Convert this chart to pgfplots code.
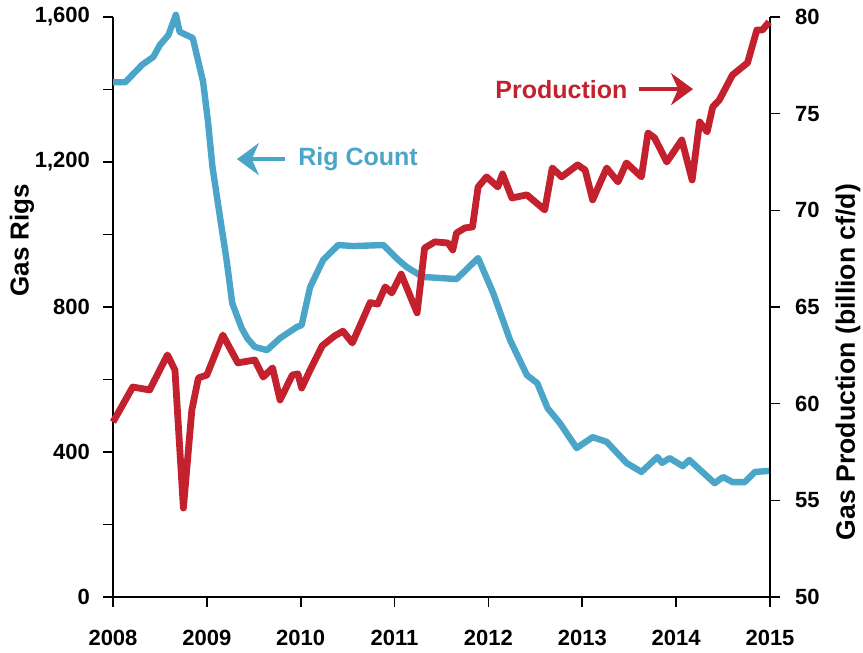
\documentclass[border=0pt]{standalone}
\usepackage{pgfplots}
\pgfplotsset{compat=1.18}
\usepackage{fontspec}
\setmainfont{Liberation Sans}
\usetikzlibrary{arrows.meta}
\definecolor{rigblue}{RGB}{75,165,200}
\definecolor{prodred}{RGB}{195,33,45}

\begin{document}
\begin{tikzpicture}[font=\bfseries]
\pgfplotsset{
  common/.style={
    scale only axis, width=328.5pt, height=290pt,
    xmin=2008, xmax=2015,
    clip=false,
    tick align=outside,
    major tick length=5pt,
    tick style={black, line width=0.8pt},
    axis line style={black, line width=0.8pt, -},
    /pgf/number format/assume math mode=true,
    tick label style={font=\fontsize{11}{13}\selectfont\bfseries},
  }
}
\begin{axis}[common, name=a,
  axis x line*=bottom, axis y line*=left,
  xtick={2008,2009,2010,2011,2012,2013,2014,2015},
  xticklabels={2008,2009,2010,2011,2012,2013,2014,2015},
  xticklabel style={yshift=-8pt},
  yticklabel style={xshift=-3pt},
  ymin=0, ymax=1600,
  ytick={0,200,400,600,800,1000,1200,1400,1600},
  yticklabels={0,,400,,800,,{1,200},,{1,600}},
  ylabel={Gas Rigs},
  every axis y label/.style={at={(axis description cs:-0.1385,0.615)}, rotate=90, anchor=center, font=\fontsize{13}{15}\selectfont\bfseries},
]
\addplot[rigblue, line width=3.2pt, line join=round] coordinates {
(2008.00,1420) (2008.13,1420) (2008.31,1468) (2008.43,1490) (2008.50,1523)
(2008.59,1550) (2008.67,1606) (2008.71,1559) (2008.85,1542) (2008.96,1421)
(2009.01,1316) (2009.06,1186) (2009.14,1048) (2009.21,930) (2009.27,811)
(2009.37,742) (2009.43,714) (2009.51,690) (2009.64,681) (2009.78,714)
(2009.96,745) (2010.01,750) (2010.10,855) (2010.24,930) (2010.40,971)
(2010.56,968) (2010.88,971) (2011.04,930) (2011.13,910) (2011.30,883)
(2011.66,877) (2011.89,935) (2012.05,839) (2012.23,709) (2012.41,612)
(2012.52,590) (2012.63,521) (2012.76,480) (2012.94,411) (2013.11,441)
(2013.26,428) (2013.47,370) (2013.63,345) (2013.80,386) (2013.85,370)
(2013.93,383) (2014.07,361) (2014.14,378) (2014.41,314) (2014.50,331)
(2014.60,317) (2014.73,317) (2014.84,345) (2015.00,348)
};
\draw[rigblue, line width=2pt, -{Stealth[length=11pt,width=16pt]}] (axis cs:2009.83,1208) -- (axis cs:2009.32,1208);
\node[rigblue, font=\fontsize{12.5}{14}\selectfont\bfseries, anchor=west, inner sep=0pt] at (axis cs:2009.97,1208) {Rig Count};
\draw[prodred, line width=2pt, -{Stealth[length=11pt,width=16pt]}] (axis cs:2013.60,1401) -- (axis cs:2014.18,1401);
\node[prodred, font=\fontsize{12.5}{14}\selectfont\bfseries, anchor=east, inner sep=0pt] at (axis cs:2013.485,1401) {Production};
\end{axis}
\begin{axis}[common,
  axis x line=none, axis y line*=right,
  ymin=50, ymax=80, ytick={50,55,60,65,70,75,80},
  yticklabel style={xshift=4pt},
  ylabel={Gas Production (billion cf/d)},
  every axis y label/.style={at={(axis description cs:1.1187,0.405)}, rotate=90, anchor=center, font=\fontsize{13.3}{15}\selectfont\bfseries},
]
\addplot[prodred, line width=3.4pt, line join=round] coordinates {
(2008.00,59.05) (2008.21,60.86) (2008.39,60.71) (2008.58,62.52) (2008.66,61.74)
(2008.75,54.60) (2008.84,59.67) (2008.91,61.33) (2009.00,61.48) (2009.17,63.55)
(2009.33,62.11) (2009.51,62.26) (2009.60,61.38) (2009.70,61.85) (2009.78,60.19)
(2009.91,61.48) (2009.97,61.54) (2010.01,60.81) (2010.10,61.74) (2010.23,63.00)
(2010.36,63.50) (2010.45,63.75) (2010.55,63.14) (2010.74,65.23) (2010.82,65.15)
(2010.90,66.04) (2010.97,65.73) (2011.07,66.70) (2011.24,64.70) (2011.32,68.05)
(2011.43,68.37) (2011.57,68.31) (2011.62,67.95) (2011.66,68.83) (2011.75,69.09)
(2011.83,69.14) (2011.89,71.21) (2011.98,71.73) (2012.10,71.21) (2012.15,71.88)
(2012.25,70.64) (2012.41,70.80) (2012.60,70.02) (2012.68,72.19) (2012.78,71.73)
(2012.95,72.35) (2013.03,72.09) (2013.11,70.54) (2013.26,72.19) (2013.38,71.47)
(2013.47,72.45) (2013.63,71.73) (2013.70,74.00) (2013.77,73.75) (2013.90,72.50)
(2014.06,73.64) (2014.17,71.57) (2014.25,74.57) (2014.33,74.06) (2014.39,75.35)
(2014.46,75.71) (2014.60,77.00) (2014.76,77.63) (2014.86,79.33) (2014.92,79.33)
(2014.99,79.75)
};
\end{axis}
\pgfresetboundingbox
\useasboundingbox ([xshift=-56.5pt,yshift=-27.5pt]a.south west) rectangle ([xshift=46.5pt,yshift=8.5pt]a.north east);
\end{tikzpicture}
\end{document}
